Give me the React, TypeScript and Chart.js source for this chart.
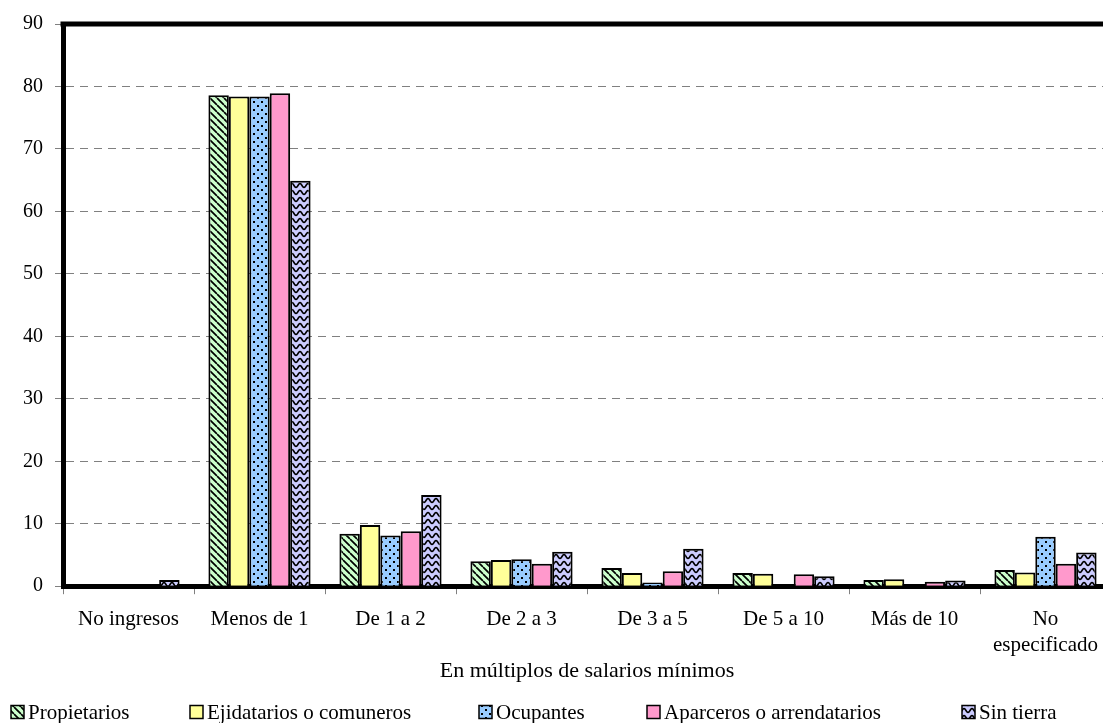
import React, { useEffect, useRef } from 'react';
import { Chart, registerables } from 'chart.js';

Chart.register(...registerables);

// ---- data ----
const categories: (string | string[])[] = [
  'No ingresos',
  'Menos de 1',
  'De 1 a 2',
  'De 2 a 3',
  'De 3 a 5',
  'De 5 a 10',
  'Más de 10',
  ['No', 'especificado'],
];
const propietarios = [0, 78.6, 8.4, 4.0, 2.9, 2.1, 1.0, 2.6];
const ejidatarios = [0, 78.4, 9.8, 4.2, 2.1, 2.0, 1.1, 2.2];
const ocupantes = [0, 78.4, 8.1, 4.3, 0.6, 0, 0, 7.9];
const aparceros = [0, 78.9, 8.8, 3.6, 2.4, 1.9, 0.7, 3.6];
const sinTierra = [1.0, 64.9, 14.6, 5.5, 6.0, 1.6, 0.9, 5.4];
const seriesNames = [
  'Propietarios',
  'Ejidatarios o comuneros',
  'Ocupantes',
  'Aparceros o arrendatarios',
  'Sin tierra',
];
const yMin = 0;
const yMax = 90;
const yStep = 10;
const xTitle = 'En múltiplos de salarios mínimos';

// ---- layout / style constants ----
const FONT = "'Liberation Serif', 'Times New Roman', serif";
const legendBoxX = [11, 190, 479, 647, 962];

function makePattern(bg: string, w: number, h: number, draw?: (c: CanvasRenderingContext2D) => void) {
  const cv = document.createElement('canvas');
  cv.width = w;
  cv.height = h;
  const c = cv.getContext('2d')!;
  c.fillStyle = bg;
  c.fillRect(0, 0, w, h);
  if (draw) draw(c);
  const ref = document.createElement('canvas').getContext('2d')!;
  return ref.createPattern(cv, 'repeat')!;
}

export default function App() {
  const canvasRef = useRef<HTMLCanvasElement | null>(null);

  useEffect(() => {
    const canvas = canvasRef.current;
    if (!canvas) return;

    const stripes = makePattern('#ccffcc', 7, 7, (c) => {
      c.strokeStyle = '#000';
      c.lineWidth = 1.7;
      c.beginPath();
      for (const k of [-7, 0, 7]) {
        c.moveTo(k, 0);
        c.lineTo(k + 7, 7);
      }
      c.stroke();
    });
    const plainYellow = makePattern('#ffff99', 4, 4);
    const dots = makePattern('#99ccff', 8, 8, (c) => {
      c.fillStyle = '#000';
      c.fillRect(1, 1, 2, 2);
      c.fillRect(5, 5, 2, 2);
    });
    const plainPink = makePattern('#ff99cc', 4, 4);
    const waves = makePattern('#ccccff', 8, 7, (c) => {
      c.strokeStyle = '#000';
      c.lineWidth = 1.6;
      c.beginPath();
      for (let x = -1; x <= 9; x += 0.5) {
        const y = 3.5 + 2 * Math.cos((2 * Math.PI * x) / 8);
        if (x === -1) c.moveTo(x, y);
        else c.lineTo(x, y);
      }
      c.stroke();
    });

    const fills = [stripes, plainYellow, dots, plainPink, waves];
    const series = [propietarios, ejidatarios, ocupantes, aparceros, sinTierra];

    const framePlugin = {
      id: 'frame',
      afterDraw(chart: any) {
        const { ctx, chartArea } = chart;
        ctx.save();
        ctx.strokeStyle = '#000';
        ctx.lineWidth = 5;
        ctx.beginPath();
        ctx.moveTo(chartArea.left - 2.5, chartArea.top);
        ctx.lineTo(chartArea.right, chartArea.top);
        ctx.lineTo(chartArea.right, chartArea.bottom);
        ctx.stroke();
        ctx.restore();
      },
    };

    const legendPlugin = {
      id: 'customLegend',
      afterDraw(chart: any) {
        const { ctx } = chart;
        const y = chart.height - 11;
        ctx.save();
        ctx.font = `21px ${FONT}`;
        ctx.textBaseline = 'middle';
        ctx.textAlign = 'left';
        chart.data.datasets.forEach((ds: any, i: number) => {
          const x = legendBoxX[i];
          ctx.fillStyle = ds.backgroundColor;
          ctx.fillRect(x, y - 6.5, 13, 13);
          ctx.strokeStyle = '#000';
          ctx.lineWidth = 1.5;
          ctx.strokeRect(x, y - 6.5, 13, 13);
          ctx.fillStyle = '#000';
          ctx.fillText(ds.label, x + 17, y + 1);
        });
        ctx.restore();
      },
    };

    const chart = new Chart(canvas, {
      type: 'bar',
      data: {
        labels: categories as any,
        datasets: seriesNames.map((name, i) => ({
          label: name,
          data: series[i],
          backgroundColor: fills[i] as any,
          borderColor: '#000',
          borderWidth: 2,
          barPercentage: 1,
          categoryPercentage: 0.78,
        })),
      },
      options: {
        responsive: false,
        animation: false,
        layout: { padding: { left: 11, right: 4, top: 17.5, bottom: 39 } },
        plugins: {
          legend: { display: false },
          tooltip: { enabled: false },
        },
        scales: {
          x: {
            grid: {
              display: true,
              drawOnChartArea: false,
              drawTicks: true,
              tickLength: 8,
              tickColor: '#808080',
              tickWidth: 1,
              offset: true,
            },
            border: { display: true, color: '#000', width: 5 },
            ticks: {
              color: '#000',
              padding: 13,
              maxRotation: 0,
              autoSkip: false,
              font: { family: FONT, size: 21, lineHeight: 1.2 },
            },
            title: {
              display: true,
              text: xTitle,
              color: '#000',
              font: { family: FONT, size: 22, lineHeight: 1.2 },
              padding: { top: -13, bottom: 0 },
            },
          },
          y: {
            min: yMin,
            max: yMax,
            ticks: {
              stepSize: yStep,
              color: '#000',
              padding: 12,
              font: { family: FONT, size: 20 },
            },
            grid: {
              color: '#808080',
              lineWidth: 1,
              tickLength: 8,
              tickColor: '#808080',
              tickWidth: 1,
              tickBorderDash: [],
            },
            border: { display: true, color: '#000', width: 5, dash: [8, 6] },
          },
        },
      },
      plugins: [framePlugin, legendPlugin],
    });

    return () => chart.destroy();
  }, []);

  return (
    <div
      style={{
        position: 'fixed',
        left: 0,
        top: 0,
        width: 1103,
        height: 723,
        overflow: 'hidden',
        background: '#fff',
      }}
    >
      <canvas
        ref={canvasRef}
        width={1115}
        height={723}
        style={{ display: 'block', width: 1115, height: 723 }}
      />
    </div>
  );
}
